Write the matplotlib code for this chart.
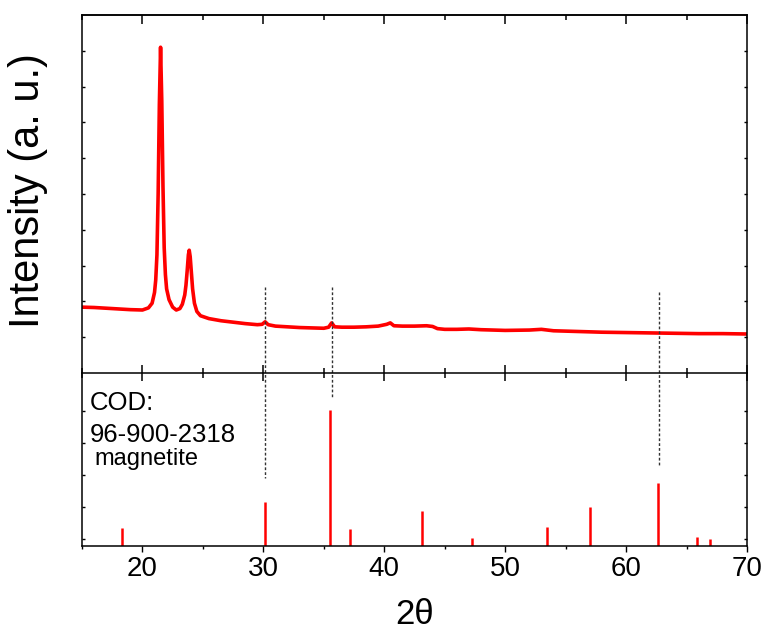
import matplotlib
matplotlib.use('Agg')
import matplotlib.pyplot as plt
import numpy as np

plt.rcParams['font.family'] = ['Liberation Sans', 'DejaVu Sans']

# measured pattern (2theta, intensity in arbitrary units)
two_theta = [15.0, 16.0, 17.0, 18.0, 19.0, 20.0, 20.5, 20.8, 21.0, 21.1, 21.2, 21.3,
             21.4, 21.5, 21.6, 21.7, 21.8, 21.9, 22.0, 22.2, 22.5, 22.8, 23.1, 23.3,
             23.5, 23.6, 23.7, 23.8, 23.87, 23.95, 24.05, 24.15, 24.3, 24.5, 24.8,
             25.5, 26.5, 27.5, 28.5, 29.5, 29.9, 30.15, 30.4, 31.0, 32.0, 33.0, 34.0,
             35.0, 35.4, 35.65, 35.9, 36.5, 37.5, 38.5, 39.5, 40.2, 40.5, 40.8, 41.5,
             42.5, 43.5, 44.0, 44.4, 45.0, 46.0, 47.0, 48.0, 50.0, 52.0, 53.0, 54.0,
             56.0, 58.0, 60.0, 62.0, 64.0, 66.0, 68.0, 70.0]
intensity = [18.4, 18.3, 18.1, 17.9, 17.7, 17.6, 18.2, 19.5, 22.5, 26.0, 33.0, 50.0,
             75.0, 91.0, 76.0, 52.0, 35.0, 27.5, 23.5, 20.5, 18.4, 17.6, 18.0, 19.2,
             21.8, 24.5, 28.5, 33.0, 34.3, 32.5, 28.0, 23.5, 19.5, 17.2, 16.0,
             15.2, 14.6, 14.2, 13.8, 13.5, 13.6, 14.3, 13.5, 13.1, 12.9, 12.7, 12.6,
             12.5, 12.8, 14.0, 12.9, 12.8, 12.8, 12.9, 13.1, 13.6, 14.0, 13.2, 13.1,
             13.1, 13.2, 13.0, 12.4, 12.2, 12.2, 12.3, 12.1, 11.9, 12.0, 12.2, 11.8,
             11.6, 11.4, 11.3, 11.2, 11.1, 11.0, 11.0, 10.9]

# reference card COD 96-900-2318 (magnetite)
ref_pos = [18.3, 30.1, 35.5, 37.15, 43.15, 47.25, 53.5, 57.05, 62.65, 65.9, 66.95]
ref_int = [13, 32, 100, 12.5, 26, 6, 14, 29, 46, 6.6, 5]

# guide lines: (position, top, bottom) in top-axes fraction
guides = [(30.1, 0.24, -0.293), (35.65, 0.24, -0.07), (62.7, 0.226, -0.257)]

fig = plt.figure(figsize=(7.64, 6.36), dpi=100)
ax = fig.add_axes([0.1073, 0.4135, 0.8704, 0.5629])
ax2 = fig.add_axes([0.1073, 0.1415, 0.8704, 0.272])
ax.set_zorder(3)
ax.patch.set_visible(False)

ax.plot(two_theta, intensity, color='red', lw=2.6, solid_joinstyle='round')
ax.set_xlim(15, 70)
ax.set_ylim(0, 100)
ax.set_xticks(np.arange(20, 71, 10))
ax.set_xticks(np.arange(15, 71, 10), minor=True)
ax.set_yticks(np.arange(10, 100, 10))
ax.tick_params(axis='x', which='major', direction='inout', length=12, width=1.1, labelbottom=False)
ax.tick_params(axis='x', which='minor', direction='inout', length=6.5, width=1.1)
ax.tick_params(axis='y', direction='in', length=2.5, width=1, left=True, right=True, labelleft=False)
top = ax.secondary_xaxis('top')
top.set_xticks(np.arange(20, 71, 10))
top.set_xticks(np.arange(15, 71, 10), minor=True)
top.tick_params(which='major', direction='in', length=6.5, width=1.1, labeltop=False)
top.tick_params(which='minor', direction='in', length=3.5, width=1.1)
for s in ax.spines.values():
    s.set_linewidth(1.1)
top.spines['top'].set_linewidth(1.1)
ax.set_ylabel('Intensity (a. u.)', fontsize=30)
ax.yaxis.set_label_coords(-0.051, 0.51)

for x, y0, y1 in guides:
    ax.plot([x, x], [y0, y1], transform=ax.get_xaxis_transform(), color='#333333',
            lw=1, ls=(0, (2, 1.5)), clip_on=False)

ax2.vlines(ref_pos, 0, ref_int, color='red', lw=1.8)
ax2.set_xlim(15, 70)
ax2.set_ylim(0, 127.2)
ax2.set_xticks(np.arange(20, 71, 10))
ax2.set_xticks(np.arange(15, 71, 10), minor=True)
ax2.set_yticks([5, 28.5, 52, 75.5, 99])
ax2.tick_params(axis='x', which='major', direction='out', length=4.5, width=1, labelsize=20, pad=3)
ax2.tick_params(axis='x', which='minor', direction='out', length=2.5, width=1)
ax2.tick_params(axis='y', direction='in', length=2.5, width=1, left=True, right=True, labelleft=False)
for s in ax2.spines.values():
    s.set_linewidth(1.1)
ax2.spines['top'].set_visible(False)
ax2.set_xlabel('2θ', fontsize=25, labelpad=11)

ax2.text(0.012, 0.827, 'COD:', transform=ax2.transAxes, fontsize=18.5, va='center', ha='left')
ax2.text(0.012, 0.642, '96-900-2318', transform=ax2.transAxes, fontsize=18.5, va='center', ha='left')
ax2.text(0.018, 0.503, 'magnetite', transform=ax2.transAxes, fontsize=17, va='center', ha='left')

fig.savefig('out.png', dpi=100)
